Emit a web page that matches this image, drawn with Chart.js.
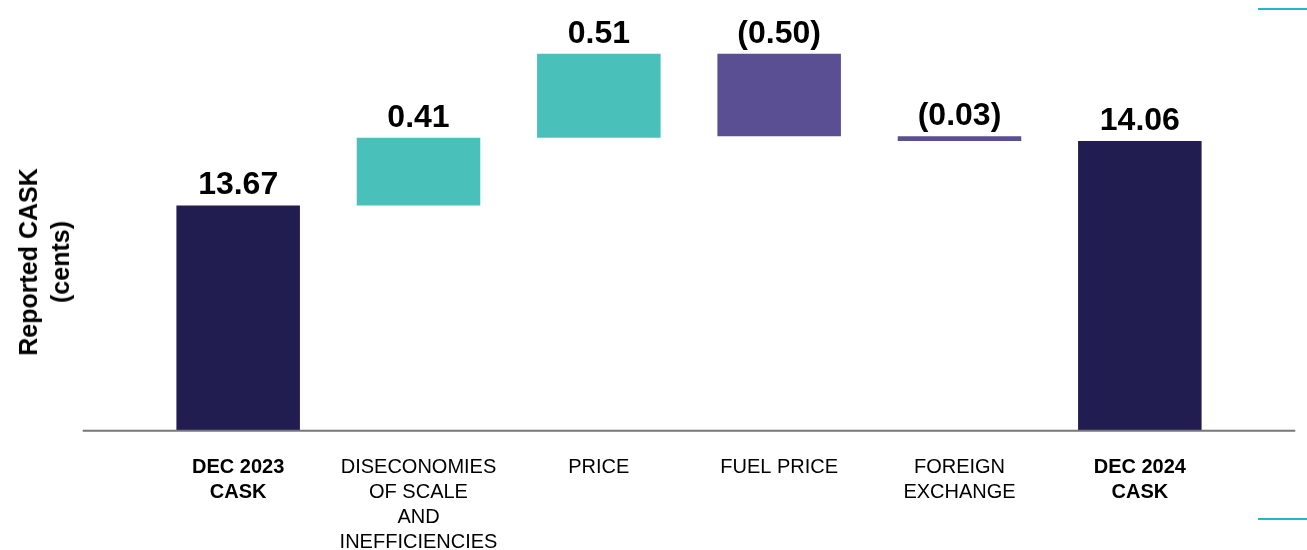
<!DOCTYPE html>
<html>
<head>
<meta charset="utf-8">
<script src="https://cdn.jsdelivr.net/npm/chart.js@4.4.1/dist/chart.umd.min.js"></script>
<style>
  html, body { margin: 0; padding: 0; background: #fff; }
  .wrap { position: relative; width: 1307px; height: 550px; overflow: hidden; }
  .y-title {
    position: absolute; left: 44px; top: 262px;
    transform: translate(-50%, -50%) rotate(-90deg);
    font-family: "Liberation Sans", Arial, sans-serif;
    font-weight: bold; font-size: 25px; line-height: 32px;
    text-align: center; white-space: nowrap; color: #000;
  }
  .accent { position: absolute; left: 1258px; width: 49px; height: 2px; background: #22b8c9; }
</style>
</head>
<body>
<div class="wrap">
  <canvas id="chart" width="1307" height="550"></canvas>
  <div class="y-title">Reported CASK<br>(cents)</div>
  <div class="accent" style="top:8px"></div>
  <div class="accent" style="top:518px"></div>
</div>
<script>
  const categories = [
    ['DEC 2023', 'CASK'],
    ['DISECONOMIES', 'OF SCALE', 'AND', 'INEFFICIENCIES'],
    ['PRICE'],
    ['FUEL PRICE'],
    ['FOREIGN', 'EXCHANGE'],
    ['DEC 2024', 'CASK']
  ];
  const startValue = 13.67;
  const changes = [0.41, 0.51, -0.50, -0.03];
  const endValue = 14.06;
  const valueLabels = ['13.67', '0.41', '0.51', '(0.50)', '(0.03)', '14.06'];
  const boldTicks = [0, 5];

  const yMin = 12.305;
  const yMax = 14.8;

  const NAVY = '#221d50';
  const TEAL = '#49c1ba';
  const PURPLE = '#5a4f92';

  // build floating bars for the waterfall
  const barData = [startValue];
  const colors = [NAVY];
  let running = startValue;
  changes.forEach(c => {
    const next = Math.round((running + c) * 100) / 100;
    barData.push([Math.min(running, next), Math.max(running, next)]);
    colors.push(c >= 0 ? TEAL : PURPLE);
    running = next;
  });
  barData.push(endValue);
  colors.push(NAVY);

  // long grey baseline that runs a bit past the first and last category
  const baseline = {
    id: 'baseline',
    afterDatasetsDraw(chart) {
      const { ctx, chartArea } = chart;
      const step = (chartArea.right - chartArea.left) / categories.length;
      const ext = step * 0.362;
      ctx.save();
      ctx.strokeStyle = '#777777';
      ctx.lineWidth = 2;
      ctx.beginPath();
      ctx.moveTo(chartArea.left - ext, chartArea.bottom);
      ctx.lineTo(chartArea.right + ext, chartArea.bottom);
      ctx.stroke();
      ctx.restore();
    }
  };

  // value on top of every bar
  const barValues = {
    id: 'barValues',
    afterDatasetsDraw(chart) {
      const { ctx } = chart;
      const meta = chart.getDatasetMeta(0);
      ctx.save();
      ctx.fillStyle = '#000';
      ctx.font = 'bold 32px "Liberation Sans", Arial, sans-serif';
      ctx.textAlign = 'center';
      ctx.textBaseline = 'alphabetic';
      meta.data.forEach((bar, i) => {
        const top = Math.min(bar.y, bar.base);
        ctx.fillText(valueLabels[i], bar.x, top - 11);
      });
      ctx.restore();
    }
  };

  new Chart(document.getElementById('chart'), {
    type: 'bar',
    data: {
      labels: categories,
      datasets: [{
        data: barData,
        backgroundColor: colors,
        borderWidth: 0,
        barPercentage: 0.685,
        categoryPercentage: 1
      }]
    },
    options: {
      responsive: false,
      animation: false,
      layout: { padding: { left: 148, right: 77, top: 19, bottom: 0 } },
      plugins: {
        legend: { display: false },
        tooltip: { enabled: false }
      },
      scales: {
        x: {
          grid: { display: false, drawTicks: false },
          border: { display: false },
          afterFit(scale) { scale.height = 119.3; },
          ticks: {
            color: '#000',
            padding: 24,
            maxRotation: 0,
            autoSkip: false,
            font: (ctx) => ({
              family: '"Liberation Sans", Arial, sans-serif',
              size: 20,
              lineHeight: '25px',
              weight: boldTicks.includes(ctx.index) ? 'bold' : 'normal'
            })
          }
        },
        y: {
          display: false,
          min: yMin,
          max: yMax
        }
      }
    },
    plugins: [baseline, barValues]
  });
</script>
</body>
</html>
